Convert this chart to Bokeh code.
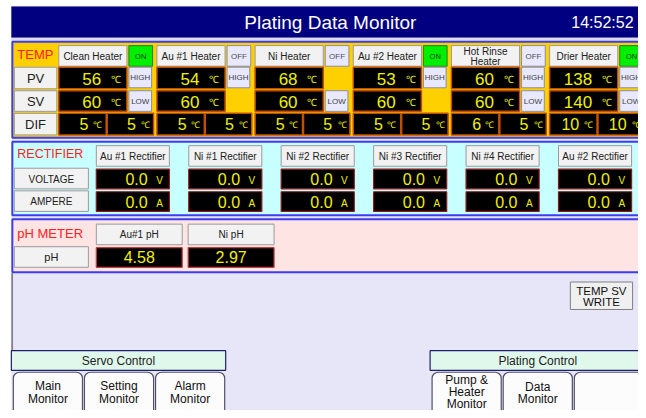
from bokeh.plotting import figure
from bokeh.models import Range1d, ColumnDataSource
from bokeh.core.properties import value
from bokeh.embed import file_html
from bokeh.resources import INLINE

# ---------------- data ----------------
title = "Plating Data Monitor"
clock = "14:52:52"

heater_names = ["Clean Heater", "Au #1 Heater", "Ni Heater", "Au #2 Heater", "Hot Rinse\nHeater", "Drier Heater"]
heater_status = ["ON", "OFF", "OFF", "ON", "OFF", "ON"]
pv_values = [56, 54, 68, 53, 60, 138]
sv_values = [60, 60, 60, 60, 60, 140]
dif_high = [5, 5, 5, 5, 6, 10]
dif_low = [5, 5, 5, 5, 5, 10]
high_alarm = [True, True, False, True, True, True]
low_alarm = [True, False, True, False, True, True]
temp_rows = ["PV", "SV", "DIF"]

rect_names = ["Au #1 Rectifier", "Ni #1 Rectifier", "Ni #2 Rectifier",
              "Ni #3 Rectifier", "Ni #4 Rectifier", "Au #2 Rectifier"]
voltage = [0.0, 0.0, 0.0, 0.0, 0.0, 0.0]
ampere = [0.0, 0.0, 0.0, 0.0, 0.0, 0.0]
rect_rows = ["VOLTAGE", "AMPERE"]

ph_names = ["Au#1 pH", "Ni pH"]
ph_values = [4.58, 2.97]

servo_buttons = ["Main\nMonitor", "Setting\nMonitor", "Alarm\nMonitor"]
plating_buttons = ["Pump &\nHeater\nMonitor", "Data\nMonitor", ""]

# ---------------- styles ----------------
FONT = "Liberation Sans"
NAVY = "#000080"
BLUE = "#3C3CF0"
YELLOW = "#FFD000"
CYAN = "#C8FFFF"
PINK = "#FFE4E4"
LAV = "#E6E6F8"
BTN = "#F2F2F2"
BTN_LINE = "#9A9A9A"
DIGIT = "#F0F000"
RED = "#FF2020"

quads = dict(left=[], right=[], top=[], bottom=[], fill=[], line=[], lw=[])
rquads = dict(left=[], right=[], top=[], bottom=[], fill=[], line=[], lw=[])
texts = {}


def box(l, r, t, b, fill, line=None, lw=1.0, rounded=False):
    d = rquads if rounded else quads
    d["left"].append(l); d["right"].append(r)
    d["top"].append(t); d["bottom"].append(b)
    d["fill"].append(fill); d["line"].append(line if line else fill)
    d["lw"].append(lw if line else 0.1)


def label(x, y, s, size, color="#202020", align="center", lh=None):
    lines = str(s).split("\n")
    lh = lh if lh else size * 1.1
    y0 = y - lh * (len(lines) - 1) / 2.0
    key = (align, size, color)
    d = texts.setdefault(key, dict(x=[], y=[], t=[]))
    for k, ln in enumerate(lines):
        d["x"].append(x); d["y"].append(y0 + k * lh); d["t"].append(ln)


def button(l, r, t, b, s, size=10, fill=BTN, line=BTN_LINE, color="#202020", lh=None):
    box(l, r, t, b, fill, line, 1.0)
    label((l + r) / 2, (t + b) / 2 + 0.5, s, size, color, lh=lh)


# screen background
box(11, 660, 6, 430, LAV)
# header
box(11, 660, 6, 38, NAVY)
label(334, 22, title, 19, "white")
label(641, 22, clock, 16, "white", align="right")
box(11, 660, 38, 41, "#DCDCEC")

# ---------------- TEMP panel ----------------
box(12, 660, 42, 140, YELLOW, BLUE, 2)
label(17, 55, "TEMP", 13, RED, align="left")
row_tb = [(68, 90), (92, 113), (115, 137)]
for (t, b), rn in zip(row_tb, temp_rows):
    button(14, 57, t, b, rn, 13)

pitch = 99.4
for i in range(len(heater_names)):
    x0 = 59 + pitch * i
    button(x0, x0 + 69, 46, 67, heater_names[i], 10, lh=11)
    if heater_status[i] == "ON":
        button(x0 + 71, x0 + 95, 46, 67, "ON", 7.5, fill="#00EE00", line="#2A7A2A", color="#204020")
    else:
        button(x0 + 71, x0 + 95, 46, 67, "OFF", 8, fill="#E8E8FF", line="#8C8CA0", color="#505050")
    # PV
    box(x0, x0 + 69, 68, 90, "black", "#C05000", 1.5)
    label(x0 + 43, 80, pv_values[i], 17, DIGIT, align="right")
    label(x0 + 58, 81, "℃", 10, DIGIT)
    # SV
    box(x0, x0 + 69, 92, 113, "black", "#C05000", 1.5)
    label(x0 + 43, 103, sv_values[i], 17, DIGIT, align="right")
    label(x0 + 58, 104, "℃", 10, DIGIT)
    if high_alarm[i]:
        button(x0 + 71, x0 + 94, 68, 89, "HIGH", 8, fill="#E8E8FF", line="#8C8CA0", color="#404040")
    if low_alarm[i]:
        button(x0 + 71, x0 + 94, 92, 113, "LOW", 8, fill="#E8E8FF", line="#8C8CA0", color="#404040")
    # DIF
    box(x0, x0 + 48, 115, 137, "black", "#C05000", 1.5)
    label(x0 + 30, 126, dif_high[i], 16, DIGIT, align="right")
    label(x0 + 39, 127, "℃", 9, DIGIT)
    box(x0 + 49, x0 + 96, 115, 137, "black", "#C05000", 1.5)
    label(x0 + 78, 126, dif_low[i], 16, DIGIT, align="right")
    label(x0 + 88, 127, "℃", 9, DIGIT)

# ---------------- RECTIFIER panel ----------------
box(12, 660, 144, 219, CYAN, BLUE, 2)
label(17, 157, "RECTIFIER", 12.5, RED, align="left")
button(14, 89, 171, 192, rect_rows[0], 10)
button(14, 89, 194, 215, rect_rows[1], 10)
rp = 93.6
for j in range(len(rect_names)):
    x0 = 97 + rp * j
    button(x0, x0 + 74, 148, 169, rect_names[j], 10)
    box(x0, x0 + 74, 172, 192, "black", "#8A1A1A", 1.2)
    label(x0 + 52, 182, f"{voltage[j]:.1f}", 16, DIGIT, align="right")
    label(x0 + 64, 184, "V", 10, DIGIT)
    box(x0, x0 + 74, 195, 215, "black", "#8A1A1A", 1.2)
    label(x0 + 52, 205, f"{ampere[j]:.1f}", 16, DIGIT, align="right")
    label(x0 + 64, 207, "A", 10, DIGIT)

# ---------------- pH panel ----------------
box(12, 660, 223, 277, PINK, BLUE, 2)
label(17, 238, "pH METER", 13, RED, align="left")
button(14, 89, 251, 272, "pH", 11)
for k in range(len(ph_names)):
    x0 = 97 + 93 * k
    button(x0, x0 + 87, 228, 249, ph_names[k], 10)
    box(x0, x0 + 87, 252, 272, "black", "#C04040", 1.2)
    label(x0 + 43.5, 262, f"{ph_values[k]:.2f}", 16, DIGIT)

# left edge line of lower area
box(11, 12.5, 278, 357, "#707080")

# TEMP SV WRITE
button(577, 640, 287, 315, "TEMP SV\nWRITE", 11.5, fill="#F0F0F0", line="#808080", color="#101010", lh=11.5)

# ---------------- bottom control groups ----------------
box(11, 228, 357, 377, "#E0F8EC", "#20206A", 1.2)
label(119.5, 367.5, "Servo Control", 12)
for k, s in enumerate(servo_buttons):
    l = 13 + 72 * k
    box(l, l + 70, 379, 440, "#FCFCFC", "#50506A", 1.2, rounded=True)
    label(l + 35, 400, s, 12, "#101010", lh=13)

box(435, 660, 357, 377, "#E0F8EC", "#20206A", 1.2)
label(544, 367.5, "Plating Control", 12)
for k, s in enumerate(plating_buttons):
    l = 437 + 72 * k
    box(l, l + 70, 379, 440, "#FCFCFC", "#50506A", 1.2, rounded=True)
    if s:
        label(l + 35, 400 if s.count("\n") == 1 else 399, s, 12, "#101010", lh=12)

# ---------------- figure ----------------
# the whole 646 x 418 screen is mapped onto the 638 x 410 drawing area
p = figure(width=638, height=410, x_range=Range1d(0, 646), y_range=Range1d(418, 0),
           output_backend="svg", toolbar_location=None, min_border=0,
           x_axis_type=None, y_axis_type=None)
p.grid.visible = False
p.outline_line_color = None
p.background_fill_color = "white"
p.border_fill_color = "white"

src = ColumnDataSource(quads)
p.quad(left="left", right="right", top="top", bottom="bottom", fill_color="fill",
       line_color="line", line_width="lw", source=src)
rsrc = ColumnDataSource(rquads)
p.quad(left="left", right="right", top="top", bottom="bottom", fill_color="fill",
       line_color="line", line_width="lw", border_radius=6, source=rsrc)

for (align, size, color), d in texts.items():
    p.text(x=d["x"], y=d["y"], text=d["t"], text_align=align, text_baseline="middle",
           text_font=value(FONT), text_font_size=f"{size}px", text_color=color)

open("out.html", "w").write(file_html(p, INLINE))
